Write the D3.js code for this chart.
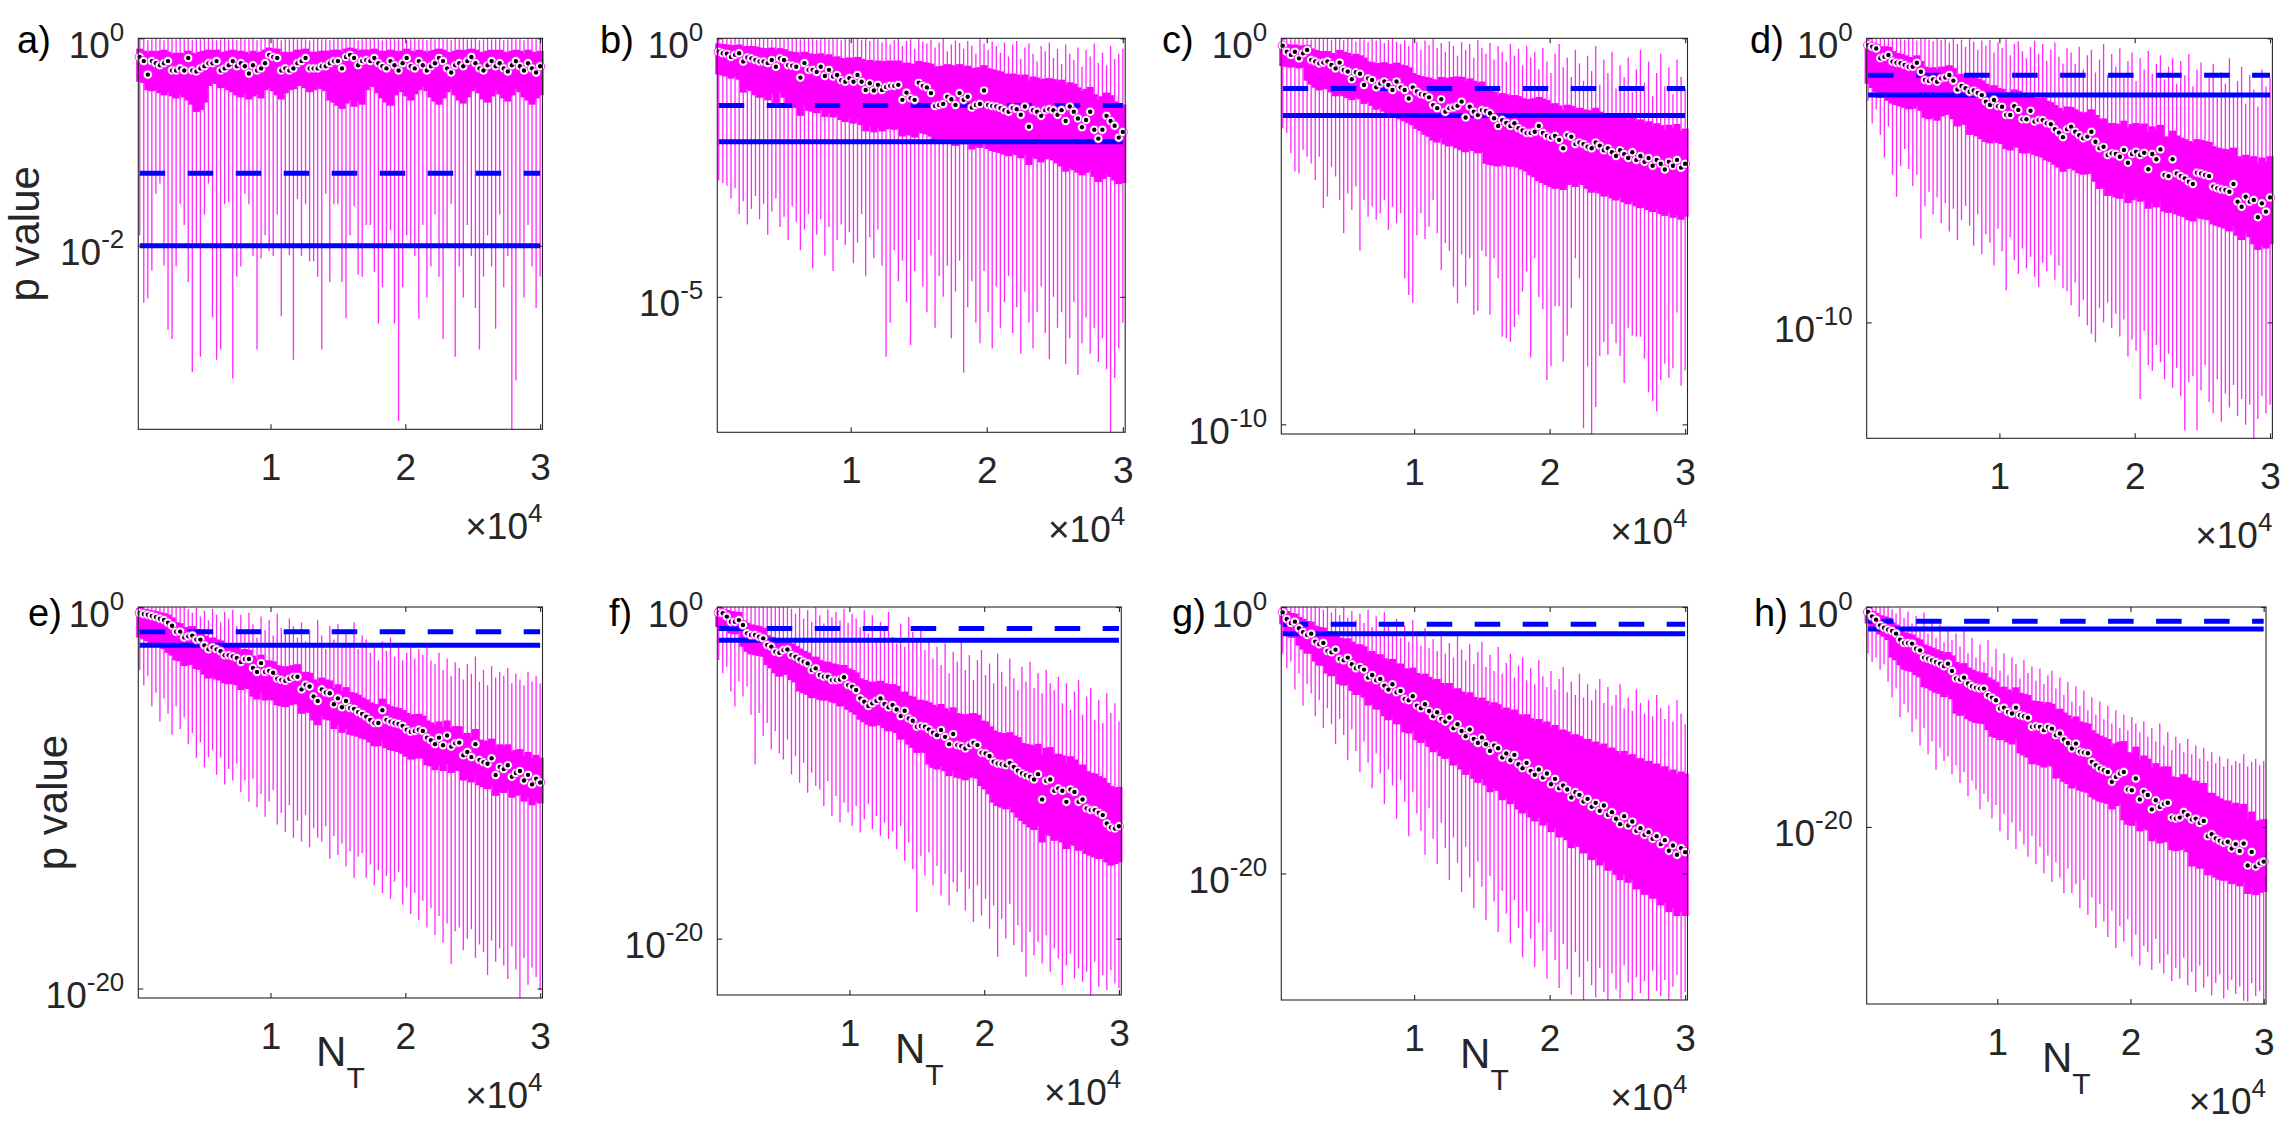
<!DOCTYPE html>
<html>
<head>
<meta charset="utf-8">
<script src="https://cdn.jsdelivr.net/npm/d3@7"></script>
<style>
  body { margin: 0; background: #fff; }
</style>
</head>
<body>
<div id="fig"></div>
<script>
// box positions (N_T)
const NT = [300,600,900,1200,1500,1800,2100,2400,2700,3000,
  3300,3600,3900,4200,4500,4800,5100,5400,5700,6000,
  6300,6600,6900,7200,7500,7800,8100,8400,8700,9000,
  9300,9600,9900,10200,10500,10800,11100,11400,11700,12000,
  12300,12600,12900,13200,13500,13800,14100,14400,14700,15000,
  15300,15600,15900,16200,16500,16800,17100,17400,17700,18000,
  18300,18600,18900,19200,19500,19800,20100,20400,20700,21000,
  21300,21600,21900,22200,22500,22800,23100,23400,23700,24000,
  24300,24600,24900,25200,25500,25800,26100,26400,26700,27000,
  27300,27600,27900,28200,28500,28800,29100,29400,29700,30000];

// all p values below are stored as -log10(p)
// panel a
const medA = [0.18,0.22,0.35,0.22,0.24,0.26,0.24,0.22,0.31,0.31,
  0.29,0.31,0.19,0.31,0.32,0.29,0.27,0.24,0.24,0.22,
  0.31,0.29,0.26,0.22,0.27,0.24,0.27,0.34,0.26,0.31,
  0.29,0.24,0.16,0.18,0.19,0.31,0.29,0.31,0.29,0.24,
  0.22,0.19,0.29,0.29,0.29,0.27,0.27,0.24,0.22,0.22,
  0.29,0.18,0.16,0.19,0.26,0.22,0.21,0.22,0.19,0.24,
  0.27,0.29,0.22,0.26,0.31,0.24,0.19,0.27,0.29,0.22,
  0.26,0.31,0.27,0.24,0.19,0.22,0.29,0.33,0.26,0.24,
  0.27,0.22,0.18,0.24,0.29,0.31,0.26,0.22,0.27,0.24,
  0.29,0.32,0.26,0.22,0.27,0.31,0.24,0.29,0.33,0.27];
const q3A = [0.10,0.12,0.14,0.12,0.13,0.12,0.11,0.13,0.15,0.14,
  0.14,0.15,0.12,0.14,0.15,0.13,0.12,0.11,0.12,0.11,
  0.14,0.13,0.12,0.11,0.13,0.12,0.13,0.15,0.12,0.14,
  0.13,0.11,0.09,0.10,0.10,0.14,0.13,0.14,0.13,0.11,
  0.11,0.10,0.13,0.13,0.13,0.12,0.12,0.12,0.11,0.11,
  0.13,0.10,0.09,0.10,0.12,0.11,0.11,0.11,0.10,0.12,
  0.12,0.13,0.11,0.12,0.14,0.12,0.10,0.12,0.13,0.11,
  0.12,0.14,0.12,0.11,0.10,0.11,0.13,0.14,0.12,0.11,
  0.12,0.11,0.10,0.11,0.13,0.14,0.12,0.11,0.12,0.11,
  0.13,0.14,0.12,0.11,0.12,0.14,0.11,0.13,0.14,0.12];
const q1A = [0.42,0.43,0.50,0.51,0.50,0.53,0.55,0.52,0.56,0.58,
  0.54,0.57,0.60,0.64,0.71,0.69,0.62,0.46,0.42,0.44,
  0.48,0.47,0.50,0.52,0.55,0.57,0.53,0.59,0.56,0.54,
  0.58,0.50,0.48,0.51,0.55,0.59,0.53,0.50,0.49,0.46,
  0.45,0.48,0.52,0.50,0.47,0.49,0.51,0.60,0.62,0.65,
  0.68,0.63,0.60,0.66,0.61,0.64,0.50,0.46,0.47,0.53,
  0.58,0.62,0.65,0.55,0.49,0.52,0.56,0.60,0.54,0.50,
  0.47,0.51,0.57,0.61,0.64,0.58,0.52,0.49,0.55,0.60,
  0.63,0.57,0.51,0.48,0.53,0.59,0.62,0.56,0.50,0.54,
  0.58,0.61,0.55,0.49,0.52,0.57,0.60,0.64,0.58,0.55];
const hiA = [0.01,0.00,0.02,0.01,0.00,0.01,0.02,0.00,0.01,0.01,
  0.00,0.01,0.00,0.02,0.01,0.01,0.00,0.00,0.01,0.02,
  0.01,0.00,0.01,0.01,0.02,0.00,0.01,0.01,0.00,0.02,
  0.01,0.00,0.00,0.01,0.00,0.02,0.01,0.01,0.00,0.01,
  0.00,0.01,0.02,0.01,0.00,0.01,0.01,0.02,0.01,0.00,
  0.01,0.00,0.00,0.01,0.02,0.01,0.00,0.01,0.00,0.01,
  0.02,0.01,0.00,0.01,0.01,0.00,0.02,0.01,0.00,0.01,
  0.01,0.02,0.00,0.01,0.00,0.01,0.01,0.02,0.00,0.01,
  0.00,0.01,0.01,0.00,0.02,0.01,0.00,0.01,0.01,0.00,
  0.02,0.01,0.00,0.01,0.01,0.02,0.00,0.01,0.01,0.00];
const loA = [1.9,2.55,2.51,2.24,1.5,1.4,2.19,2.81,2.9,2.2,
  1.6,1.8,2.35,3.22,2.0,3.07,1.7,1.4,2.69,3.1,
  3.0,1.6,1.58,3.28,2.3,2.2,1.5,1.6,2.1,3.0,
  2.12,1.9,2.05,2.1,1.7,2.68,2.0,2.09,3.1,1.55,
  2.1,1.6,2.15,2.15,2.3,3.0,1.5,2.35,1.6,1.6,
  2.35,2.7,1.9,1.62,2.28,2.3,1.8,1.8,2.25,2.75,
  2.4,2.0,1.85,2.75,3.69,2.4,1.9,2.0,2.1,2.7,
  1.8,2.5,2.2,1.7,2.3,2.9,2.0,1.6,3.07,2.2,
  2.5,1.8,2.1,2.6,3.0,2.3,1.9,2.2,2.8,1.7,
  2.4,2.1,3.77,3.3,2.0,2.5,1.8,2.2,2.6,2.3];

// panel b
const medB = [0.26,0.29,0.30,0.36,0.32,0.29,0.45,0.37,0.39,0.42,
  0.45,0.45,0.48,0.42,0.55,0.39,0.42,0.52,0.53,0.55,
  0.76,0.48,0.61,0.61,0.65,0.55,0.73,0.61,0.74,0.71,
  0.81,0.84,0.77,0.84,0.71,0.84,1.00,0.87,1.01,0.90,
  1.00,0.94,0.92,0.92,0.90,1.19,1.05,1.16,1.19,0.86,
  0.92,0.95,1.06,1.31,1.29,1.27,1.13,1.18,1.29,1.06,
  1.19,1.13,1.34,1.29,1.27,1.01,1.29,1.31,1.32,1.35,
  1.39,1.42,1.35,1.37,1.48,1.32,1.71,1.39,1.42,1.50,
  1.39,1.37,1.39,1.48,1.39,1.60,1.32,1.42,1.55,1.72,
  1.58,1.42,1.77,1.94,1.77,1.50,1.60,1.69,1.92,1.81];
const q3B = [0.10,0.11,0.12,0.14,0.13,0.12,0.16,0.15,0.15,0.16,
  0.18,0.19,0.20,0.18,0.23,0.19,0.21,0.25,0.26,0.27,
  0.33,0.26,0.29,0.30,0.31,0.29,0.34,0.31,0.36,0.35,
  0.38,0.40,0.37,0.40,0.36,0.40,0.45,0.42,0.46,0.43,
  0.45,0.44,0.43,0.44,0.43,0.50,0.47,0.49,0.50,0.44,
  0.46,0.47,0.49,0.55,0.54,0.53,0.50,0.52,0.55,0.50,
  0.54,0.53,0.58,0.57,0.56,0.52,0.58,0.60,0.62,0.64,
  0.68,0.70,0.68,0.70,0.75,0.70,0.82,0.74,0.76,0.80,
  0.78,0.77,0.79,0.83,0.80,0.90,0.85,0.88,0.95,1.02,
  0.98,0.94,1.08,1.18,1.12,1.05,1.10,1.22,1.30,1.28];
const q1B = [0.70,0.72,0.74,0.78,0.75,0.80,1.05,0.98,1.02,1.10,
  1.15,1.12,1.20,1.08,1.28,1.05,1.15,1.30,1.32,1.35,
  1.50,1.30,1.40,1.42,1.45,1.38,1.52,1.44,1.53,1.50,
  1.58,1.62,1.56,1.65,1.55,1.68,1.80,1.70,1.82,1.74,
  1.80,1.76,1.75,1.77,1.74,1.90,1.85,1.88,1.92,1.80,
  1.84,1.86,1.90,2.02,2.00,1.98,1.95,2.00,2.08,1.96,
  2.05,2.02,2.15,2.10,2.12,2.00,2.14,2.18,2.20,2.22,
  2.25,2.28,2.22,2.26,2.32,2.25,2.45,2.30,2.33,2.40,
  2.34,2.32,2.36,2.42,2.48,2.58,2.50,2.55,2.60,2.65,
  2.60,2.56,2.68,2.78,2.72,2.62,2.68,2.75,2.82,2.80];
const hiB = [0.00,0.01,0.00,0.02,0.00,0.01,0.00,0.00,0.02,0.01,
  0.00,0.01,0.00,0.03,0.00,0.01,0.02,0.00,0.01,0.00,
  0.02,0.00,0.01,0.00,0.03,0.01,0.00,0.02,0.00,0.01,
  0.04,0.00,0.02,0.01,0.00,0.03,0.01,0.05,0.00,0.02,
  0.08,0.01,0.12,0.03,0.00,0.15,0.05,0.02,0.20,0.00,
  0.06,0.10,0.03,0.18,0.08,0.01,0.25,0.12,0.04,0.09,
  0.20,0.05,0.14,0.30,0.02,0.10,0.22,0.06,0.15,0.28,
  0.08,0.35,0.12,0.05,0.40,0.18,0.10,0.30,0.45,0.15,
  0.25,0.08,0.38,0.20,0.50,0.12,0.30,0.42,0.18,0.55,
  0.22,0.35,0.10,0.48,0.28,0.52,0.15,0.40,0.30,0.20];
const loB = [2.75,2.80,2.85,3.10,2.90,3.40,3.15,3.60,3.30,3.05,
  3.50,3.20,3.80,3.35,3.10,3.65,3.45,3.90,3.25,3.55,
  4.10,3.70,3.40,4.45,3.80,3.50,4.20,3.65,4.50,3.90,
  3.60,4.00,3.75,4.35,3.95,3.40,4.60,3.85,4.25,3.70,
  4.40,6.16,5.50,4.10,4.70,4.30,5.10,5.93,4.50,3.90,
  4.80,5.30,4.20,5.60,4.60,5.00,4.40,5.80,4.90,4.30,
  6.47,5.20,4.70,5.50,5.90,4.50,5.30,6.00,4.80,5.60,
  5.10,4.60,5.70,5.20,6.10,4.90,5.50,6.00,5.30,4.80,
  5.70,6.20,5.00,5.60,5.30,6.30,5.80,5.10,6.51,5.90,
  5.40,6.10,5.60,6.26,5.80,6.40,7.62,6.57,6.00,5.50];

// panel c
const medC = [0.19,0.35,0.43,0.35,0.52,0.39,0.30,0.56,0.60,0.65,
  0.63,0.60,0.69,0.78,0.63,0.82,0.86,1.06,0.88,0.92,
  1.21,1.04,1.08,1.27,1.17,1.12,1.21,1.34,1.12,1.27,
  1.34,1.56,1.27,1.38,1.45,1.47,1.53,1.73,1.81,1.58,
  1.90,1.81,1.79,1.75,1.64,2.05,1.77,1.90,1.99,1.86,
  1.88,1.94,2.07,2.27,2.12,2.19,2.27,2.20,2.33,2.39,
  2.45,2.45,2.42,2.27,2.45,2.53,2.57,2.53,2.63,2.85,
  2.51,2.55,2.74,2.70,2.74,2.81,2.85,2.70,2.78,2.90,
  2.85,2.95,3.05,2.90,3.00,3.10,2.95,3.15,3.05,3.20,
  3.10,3.30,3.15,3.25,3.40,3.20,3.30,3.15,3.35,3.25];
const q3C = [0.13,0.15,0.18,0.16,0.20,0.18,0.17,0.26,0.30,0.33,
  0.34,0.33,0.38,0.43,0.30,0.35,0.38,0.45,0.40,0.44,
  0.50,0.60,0.62,0.66,0.64,0.62,0.66,0.70,0.63,0.68,
  0.70,0.75,0.90,0.95,0.98,1.00,1.02,1.06,1.08,1.00,
  1.05,1.02,1.00,0.99,1.00,1.12,1.04,1.10,1.15,1.12,
  1.26,1.30,1.38,1.48,1.42,1.45,1.50,1.47,1.50,1.55,
  1.58,1.57,1.55,1.52,1.56,1.60,1.70,1.68,1.74,1.86,
  1.72,1.75,1.82,1.80,1.84,1.86,1.88,1.80,1.90,1.96,
  1.94,2.00,2.06,1.98,2.04,2.12,2.05,2.16,2.10,2.20,
  2.15,2.28,2.20,2.25,2.38,2.24,2.32,2.22,2.40,2.34];
const q1C = [0.72,0.74,0.76,0.73,0.78,0.75,1.10,1.20,1.28,1.35,
  1.30,1.32,1.40,1.50,1.45,1.50,1.55,1.60,1.52,1.58,
  1.70,1.65,1.75,1.85,1.80,1.90,1.95,2.05,1.92,2.10,
  2.15,2.20,2.25,2.35,2.40,2.50,2.55,2.65,2.70,2.60,
  2.75,2.80,2.78,2.85,2.90,2.95,2.88,2.92,2.98,2.95,
  3.25,3.28,3.30,3.32,3.26,3.30,3.33,3.28,3.35,3.40,
  3.45,3.55,3.60,3.70,3.75,3.80,3.85,3.90,3.88,3.93,
  3.80,3.75,3.85,3.70,3.80,3.90,4.00,3.95,4.02,4.10,
  4.05,4.15,4.20,4.12,4.25,4.30,4.22,4.35,4.40,4.32,
  4.45,4.50,4.42,4.55,4.60,4.50,4.65,4.58,4.70,4.62];
const hiC = [0.00,0.01,0.00,0.02,0.00,0.01,0.00,0.03,0.01,0.00,
  0.02,0.00,0.04,0.01,0.00,0.05,0.02,0.00,0.08,0.01,
  0.03,0.10,0.00,0.06,0.02,0.12,0.04,0.00,0.09,0.15,
  0.05,0.20,0.02,0.10,0.30,0.06,0.18,0.01,0.25,0.12,
  0.35,0.08,0.20,0.45,0.10,0.30,0.15,0.50,0.05,0.25,
  0.40,0.12,0.55,0.20,0.35,0.60,0.15,0.45,0.28,0.70,
  0.20,0.50,0.35,0.80,0.25,0.60,0.90,0.40,0.15,0.75,
  0.50,1.00,0.30,0.65,1.10,0.45,0.85,0.20,1.20,0.55,
  0.90,0.35,1.30,0.70,1.00,0.50,1.40,0.80,0.30,1.15,
  0.60,1.50,0.90,0.40,1.25,0.75,1.45,0.55,1.00,1.30];
const loC = [2.33,2.45,2.98,3.45,3.50,2.89,3.07,3.24,3.67,3.07,
  4.40,4.10,3.33,3.58,4.19,5.05,4.02,4.45,3.84,5.50,
  4.19,4.62,4.36,4.70,4.53,4.19,4.96,4.36,4.79,4.53,
  6.22,6.65,6.85,5.10,4.53,5.20,4.88,4.19,5.05,6.00,
  5.30,5.50,6.43,6.86,5.60,6.43,5.70,7.16,7.06,5.50,
  5.65,7.16,5.70,6.22,7.73,7.77,7.87,7.48,7.16,6.56,
  6.04,8.27,5.70,6.71,7.02,8.85,8.49,6.94,6.94,8.38,
  7.70,6.98,5.70,6.22,10.10,8.50,10.25,9.55,8.23,7.87,
  8.20,7.40,7.90,8.23,8.93,7.50,7.70,7.73,7.73,8.30,
  9.17,9.40,9.67,8.85,8.43,8.80,8.55,7.10,9.00,8.60];

// panel d
const medD = [0.24,0.30,0.36,0.70,0.65,0.59,0.82,0.86,0.88,0.94,
  1.00,1.00,0.86,1.18,1.47,1.50,1.45,1.53,1.41,1.38,
  1.29,1.49,1.80,1.68,1.76,1.88,1.84,1.92,2.00,2.23,
  2.35,2.17,2.39,2.41,2.70,2.70,2.39,2.52,2.85,2.85,
  2.55,2.93,2.88,2.88,2.99,3.02,3.20,3.32,3.48,3.20,
  3.11,3.29,3.41,3.52,3.46,3.29,3.64,3.87,3.82,4.11,
  4.05,4.07,4.17,3.93,4.38,4.07,3.99,4.11,4.03,4.61,
  4.07,4.26,3.91,4.81,4.85,4.26,4.76,4.85,4.93,5.05,
  5.13,4.73,4.76,4.81,4.85,5.22,5.28,5.32,5.34,5.40,
  5.13,5.75,5.93,5.58,5.75,5.69,6.30,5.81,6.10,5.60];
const q3D = [0.18,0.20,0.22,0.30,0.28,0.30,0.45,0.52,0.55,0.60,
  0.66,0.68,0.60,0.80,1.00,1.05,1.02,1.08,1.00,1.00,
  0.95,1.05,1.30,1.25,1.35,1.40,1.38,1.42,1.48,1.60,
  1.70,1.65,1.75,1.78,1.90,1.92,1.80,1.85,2.05,2.08,
  1.95,2.10,2.12,2.10,2.20,2.25,2.35,2.45,2.55,2.40,
  2.42,2.50,2.58,2.64,2.60,2.50,2.70,2.85,2.82,3.00,
  2.98,3.00,3.05,2.90,3.15,3.02,2.98,3.05,3.00,3.30,
  3.10,3.20,3.05,3.45,3.48,3.25,3.42,3.50,3.55,3.62,
  3.68,3.55,3.58,3.62,3.65,3.80,3.85,3.88,3.90,3.95,
  3.85,4.15,4.25,4.10,4.18,4.15,4.40,4.20,4.35,4.15];
const q1D = [1.60,1.75,1.90,2.10,2.05,2.20,2.30,2.35,2.40,2.45,
  2.50,2.48,2.40,2.55,2.80,2.85,2.78,2.90,2.75,2.70,
  2.65,2.85,3.10,3.00,3.05,3.40,3.38,3.45,3.55,3.65,
  3.70,3.60,3.68,3.72,3.90,3.95,3.80,3.85,4.05,4.05,
  3.95,4.10,4.15,4.20,4.30,4.35,4.45,4.55,4.70,4.60,
  4.55,4.65,4.75,4.80,4.78,4.70,5.05,5.30,5.25,5.55,
  5.50,5.60,5.65,5.45,5.80,5.70,5.65,5.75,5.72,6.00,
  5.80,5.95,5.75,6.10,6.15,5.95,6.20,6.25,6.30,6.40,
  6.45,6.30,6.35,6.38,6.40,6.55,6.60,6.65,6.70,6.80,
  6.60,6.95,7.10,6.85,7.00,7.25,7.45,7.30,7.40,7.25];
const hiD = [0.00,0.01,0.00,0.02,0.01,0.00,0.03,0.00,0.01,0.05,
  0.00,0.02,0.08,0.01,0.00,0.04,0.10,0.00,0.06,0.02,
  0.15,0.00,0.20,0.05,0.30,0.02,0.12,0.40,0.08,0.25,
  0.05,0.50,0.15,0.35,0.03,0.60,0.20,0.10,0.45,0.70,
  0.30,0.08,0.55,0.20,0.80,0.40,0.15,0.65,0.90,0.35,
  0.50,0.90,0.30,1.10,0.60,0.40,1.20,0.75,0.20,1.30,
  0.55,1.00,0.35,1.40,0.80,0.50,1.50,0.70,1.10,0.45,
  1.25,0.90,0.60,1.45,1.00,0.70,1.60,0.80,1.30,0.55,
  1.70,1.10,0.85,1.90,1.40,0.90,2.10,1.20,1.60,0.70,
  2.00,1.50,1.00,2.30,1.30,1.80,2.40,1.10,1.70,1.40];
const loD = [2.20,3.00,2.50,3.40,4.20,3.10,4.80,5.58,4.50,3.90,
  4.60,5.20,4.80,7.05,5.90,5.40,6.20,5.60,6.50,5.80,
  6.80,6.00,7.10,6.40,5.90,6.60,7.30,6.20,7.60,6.90,
  7.20,8.00,6.70,7.50,8.87,7.00,7.80,8.30,7.40,8.10,
  7.70,8.40,8.75,7.90,8.20,7.60,8.50,8.00,8.80,8.90,
  9.40,8.60,9.80,9.20,10.10,10.40,10.70,9.50,10.00,9.30,
  10.20,9.70,10.50,9.90,11.20,10.60,11.00,12.70,10.30,11.50,
  11.70,10.80,11.40,12.00,11.10,12.30,11.60,12.60,13.80,12.10,
  11.90,13.80,12.40,11.50,12.80,13.20,12.00,13.50,12.50,13.00,
  12.20,13.30,12.70,13.60,12.90,14.08,13.40,12.60,13.20,12.90];

// panel e
const medE = [0.31,0.37,0.41,0.47,0.53,0.61,0.68,0.82,0.98,1.30,
  1.29,1.60,1.54,1.50,1.71,1.71,2.01,2.22,2.12,2.22,
  2.32,2.53,2.53,2.59,2.67,2.88,2.73,2.73,3.20,3.41,
  2.94,3.41,3.35,3.45,3.76,3.82,3.87,3.76,3.66,3.66,
  4.32,4.07,4.17,4.69,4.93,4.32,4.48,4.52,5.10,4.79,
  5.26,4.93,5.30,5.34,5.51,5.61,5.75,5.92,6.08,6.08,
  5.41,5.92,6.02,6.08,6.13,6.23,6.43,6.54,6.50,6.43,
  6.50,6.85,6.99,7.19,6.85,7.25,6.74,7.32,7.15,7.11,
  7.77,7.60,7.87,7.19,8.02,8.14,8.22,7.93,8.81,8.39,
  8.50,8.30,8.90,8.70,8.60,9.10,8.80,9.30,9.00,9.20];
const q3E = [0.06,0.10,0.14,0.18,0.22,0.28,0.32,0.40,0.55,0.80,
  0.85,1.05,1.05,1.00,1.15,1.20,1.50,1.65,1.60,1.70,
  1.75,1.95,1.95,2.00,2.10,2.30,2.20,2.25,2.55,2.75,
  2.50,2.80,2.80,2.85,3.05,3.10,3.15,3.10,3.05,3.00,
  3.50,3.40,3.45,3.80,4.00,3.70,3.80,3.85,4.25,4.05,
  4.40,4.20,4.45,4.50,4.60,4.75,4.85,5.00,5.10,5.10,
  4.80,5.10,5.20,5.25,5.30,5.40,5.55,5.65,5.62,5.60,
  5.70,5.95,6.05,6.20,6.00,6.30,5.95,6.35,6.25,6.25,
  6.70,6.60,6.80,6.40,6.95,7.00,7.05,6.90,7.40,7.20,
  7.30,7.20,7.60,7.50,7.45,7.80,7.60,7.95,7.75,7.90];
const q1E = [1.60,1.70,1.80,1.90,2.00,2.10,2.20,2.40,2.55,2.80,
  2.85,3.10,3.05,3.00,3.25,3.30,3.55,3.75,3.65,3.80,
  3.85,4.00,4.05,4.00,4.10,4.35,4.25,4.30,4.70,4.85,
  4.50,4.90,4.85,4.90,5.15,5.20,5.25,5.15,5.10,5.10,
  5.60,5.40,5.55,5.95,6.20,5.70,5.90,5.95,6.40,6.20,
  6.60,6.40,6.70,6.75,6.80,6.90,6.95,7.10,7.30,7.30,
  7.00,7.40,7.50,7.55,7.60,7.70,7.85,8.00,7.95,7.90,
  7.95,8.30,8.35,8.55,8.30,8.60,8.25,8.70,8.60,8.60,
  9.10,9.00,9.20,8.80,9.35,9.45,9.55,9.35,9.90,9.70,
  9.75,9.60,10.00,9.90,9.85,10.20,10.00,10.40,10.15,10.30];
const hiE = [0.00,0.00,0.01,0.00,0.02,0.00,0.01,0.00,0.00,0.02,
  0.01,0.00,0.10,0.30,0.05,0.50,0.20,0.70,0.10,0.40,
  0.80,0.25,0.60,0.15,1.00,0.40,1.30,0.30,0.90,1.60,
  0.50,1.20,0.70,1.50,0.35,1.10,1.40,0.60,1.00,1.60,
  0.80,1.80,1.20,2.00,0.70,1.50,2.20,1.00,1.70,0.90,
  2.10,1.30,1.90,0.80,2.20,1.50,1.70,2.40,2.00,2.80,
  1.80,2.30,1.60,2.60,2.10,2.80,2.40,1.90,2.70,2.20,
  2.50,2.00,2.80,3.00,2.40,3.30,2.70,3.60,2.90,3.20,
  3.80,3.00,3.50,2.60,3.90,3.30,4.10,3.10,3.70,3.40,
  3.60,3.20,4.00,3.50,3.80,4.10,3.40,3.90,3.60,4.00];
const loE = [3.30,4.10,3.60,5.20,4.50,6.00,4.80,5.60,6.70,5.20,
  6.40,5.80,7.20,6.60,7.90,7.10,8.40,7.87,7.50,8.80,
  7.90,9.30,8.50,9.10,8.20,9.70,9.10,10.20,9.00,10.50,
  9.80,11.00,10.20,9.60,11.40,10.80,11.80,10.40,12.10,11.20,
  12.30,10.90,12.60,11.60,12.10,12.30,11.50,13.20,12.00,13.00,
  12.40,13.60,12.80,14.20,13.10,12.90,14.20,13.50,14.60,13.80,
  15.00,14.10,15.30,14.40,13.90,15.60,14.70,16.10,15.00,16.40,
  15.40,16.80,15.80,17.20,16.20,17.60,16.60,18.70,17.00,16.80,
  18.00,17.40,16.90,18.40,17.70,18.10,19.30,17.50,18.60,17.90,
  18.80,19.50,17.80,19.00,20.50,18.40,19.80,18.90,19.40,20.10];

// panel f
const medF = [0.34,0.38,0.58,0.89,0.89,0.79,1.09,1.59,1.69,1.69,
  1.79,1.89,2.29,2.39,2.70,2.76,2.60,2.56,2.90,3.00,
  3.16,3.30,3.40,3.80,3.70,4.10,4.20,4.20,4.41,4.41,
  4.37,4.24,4.71,4.81,5.01,5.51,5.71,5.97,5.81,5.65,
  5.51,5.85,6.05,5.91,6.18,6.58,6.26,6.72,6.86,7.22,
  7.18,7.22,7.38,7.58,7.73,7.42,7.83,8.27,7.66,8.33,
  8.39,8.53,8.33,8.19,8.33,8.79,8.83,8.99,9.33,9.44,
  9.48,9.54,9.40,9.64,9.88,10.04,10.14,10.24,10.40,10.08,
  11.61,10.48,10.40,11.08,10.94,11.08,11.75,11.00,11.15,11.75,
  11.61,12.15,12.25,12.25,12.41,12.55,13.06,13.30,13.36,13.22];
const q3F = [0.10,0.12,0.18,0.25,0.28,0.30,0.80,0.95,1.05,1.10,
  1.15,1.25,1.70,1.80,2.00,2.10,2.00,2.00,2.20,2.35,
  2.50,2.65,2.75,3.00,3.00,3.20,3.30,3.30,3.40,3.45,
  3.55,3.50,3.70,3.80,3.95,4.30,4.40,4.50,4.55,4.50,
  4.45,4.60,4.70,4.65,4.75,5.20,5.10,5.35,5.40,5.60,
  5.60,5.65,5.75,5.90,6.00,5.85,6.10,6.30,6.05,6.40,
  6.45,6.55,6.45,6.40,6.50,6.85,6.90,7.20,7.45,7.55,
  7.60,7.65,7.55,7.75,7.85,8.20,8.25,8.30,8.40,8.25,
  8.90,8.50,8.45,8.90,8.85,8.95,9.40,9.00,9.20,9.55,
  9.50,9.90,10.00,10.05,10.20,10.30,10.60,10.80,10.90,10.85];
const q1F = [1.20,1.25,1.40,1.60,1.65,1.55,2.40,2.70,2.85,2.90,
  2.95,3.00,3.50,3.70,4.00,4.20,4.10,4.05,4.40,4.55,
  5.10,5.20,5.30,5.50,5.45,5.60,5.65,5.60,5.75,5.80,
  6.00,5.90,6.20,6.35,6.50,6.80,6.95,7.10,7.20,7.15,
  7.10,7.30,7.50,7.40,7.60,8.00,7.85,8.30,8.50,8.80,
  8.75,8.80,9.50,9.70,9.80,9.60,9.90,10.20,9.90,10.30,
  10.35,10.45,10.30,10.20,10.35,10.80,11.00,11.30,11.80,12.00,
  12.10,12.20,12.05,12.40,12.70,12.90,13.10,13.30,13.45,13.20,
  14.20,13.70,13.80,14.10,14.00,14.20,14.60,14.30,14.40,14.70,
  14.60,14.90,15.00,15.10,15.20,15.10,15.40,15.60,15.50,15.40];
const hiF = [0.00,0.00,0.01,0.00,0.00,0.02,0.00,0.01,0.00,0.00,
  0.02,0.00,0.01,0.00,0.03,0.00,0.01,0.00,0.10,0.40,
  0.05,0.70,0.20,0.90,0.00,0.50,1.00,0.15,0.60,0.30,
  0.80,0.10,0.95,0.40,0.70,1.20,0.20,1.60,0.50,2.00,
  0.90,1.40,0.30,1.80,2.20,1.00,2.40,0.60,1.50,2.10,
  1.20,2.60,2.00,3.10,2.40,3.50,2.20,4.00,2.70,3.30,
  2.00,3.80,2.90,4.40,3.20,2.60,4.10,3.40,4.60,2.80,
  3.90,4.80,3.10,4.30,5.00,3.60,4.50,3.30,4.90,4.00,
  5.20,3.80,4.60,5.00,4.20,5.80,4.60,6.20,5.10,4.40,
  6.50,5.40,4.90,6.80,5.60,7.00,5.20,6.40,5.80,6.90];
const loF = [3.20,4.00,3.60,5.10,6.00,4.50,5.40,4.80,6.50,9.50,
  6.40,7.80,7.00,8.60,7.50,8.83,9.20,8.00,10.10,9.00,
  10.60,9.40,11.20,10.00,10.80,11.00,12.00,10.50,12.60,11.40,
  13.00,11.80,12.40,13.20,12.00,13.60,12.80,11.90,13.40,12.60,
  13.80,13.00,14.00,13.50,14.60,13.20,15.30,14.20,15.80,18.40,
  15.00,16.20,14.80,16.80,15.60,17.40,16.10,18.00,16.60,17.20,
  16.00,18.30,17.00,19.00,16.80,18.60,17.60,19.40,18.00,21.10,
  18.80,20.00,17.90,20.40,19.20,20.80,22.30,19.60,21.00,20.20,
  21.50,19.80,22.00,20.60,21.20,22.80,21.60,20.90,22.40,21.80,
  22.60,22.00,23.40,21.40,22.90,22.20,23.10,21.90,22.70,23.00];

// panel g
const medG = [0.40,0.90,1.20,1.10,1.60,1.90,2.10,2.00,2.60,2.80,
  2.70,3.30,3.40,3.20,3.90,4.00,3.80,4.30,4.60,4.50,
  4.70,5.30,5.10,5.50,5.40,5.90,6.20,5.80,6.40,6.30,
  6.90,7.00,6.70,7.40,7.60,7.30,7.80,8.20,7.90,8.40,
  8.60,8.30,9.10,8.80,9.30,9.70,9.20,9.90,10.20,9.80,
  10.30,10.80,10.40,10.60,11.30,11.00,11.50,11.10,11.80,12.10,
  11.70,12.30,12.60,12.20,12.80,12.50,13.30,12.90,13.60,13.40,
  13.70,14.30,13.90,14.10,14.60,14.40,15.00,14.70,15.30,14.90,
  15.60,15.40,15.90,16.30,15.70,16.40,16.10,16.80,16.60,17.10,
  16.90,17.40,17.20,17.80,17.50,18.30,17.90,18.60,18.10,18.40];
const q3G = [0.12,0.30,0.45,0.50,0.75,0.90,1.05,1.10,1.40,1.50,
  1.55,1.85,1.95,1.90,2.30,2.40,2.35,2.60,2.80,2.80,
  2.95,3.40,3.30,3.55,3.55,3.85,4.05,3.90,4.25,4.25,
  4.60,4.70,4.55,4.95,5.10,5.00,5.25,5.50,5.40,5.70,
  5.85,5.70,6.20,6.10,6.35,6.60,6.40,6.75,6.95,6.80,
  7.05,7.35,7.15,7.30,7.70,7.55,7.85,7.70,8.05,8.25,
  8.05,8.35,8.55,8.40,8.70,8.60,9.05,8.85,9.25,9.20,
  9.35,9.70,9.55,9.70,9.95,9.90,10.20,10.10,10.40,10.25,
  10.60,10.55,10.80,11.05,10.80,11.15,11.05,11.40,11.35,11.60,
  11.55,11.80,11.75,12.05,11.95,12.35,12.20,12.55,12.35,12.50];
const q1G = [1.30,1.90,2.30,2.30,2.90,3.20,3.50,3.50,4.10,4.40,
  4.40,5.00,5.20,5.00,5.80,5.90,5.80,6.30,6.60,6.60,
  6.80,7.40,7.30,7.70,7.70,8.20,8.50,8.20,8.80,8.80,
  9.40,9.50,9.30,10.00,10.20,10.00,10.50,10.90,10.70,11.20,
  11.40,11.20,11.90,11.70,12.20,12.60,12.20,12.90,13.20,12.90,
  13.40,13.90,13.60,13.80,14.50,14.30,14.80,14.50,15.20,15.50,
  15.20,15.80,16.10,15.80,16.40,16.20,16.90,16.60,17.30,17.20,
  17.50,18.10,17.80,18.00,18.50,18.40,19.00,18.80,19.40,19.10,
  19.80,19.70,20.10,20.50,20.10,20.70,20.50,21.20,21.10,21.60,
  21.50,21.90,21.80,22.40,22.20,22.90,22.60,23.20,22.90,23.20];
const hiG = [0.00,0.00,0.01,0.00,0.02,0.00,0.00,0.01,0.00,0.05,
  0.20,0.00,0.40,0.10,0.60,0.00,0.80,0.30,1.00,0.50,
  1.20,0.20,1.50,0.70,1.80,0.40,1.20,2.00,0.90,2.30,
  1.40,2.60,1.00,2.20,2.90,1.60,3.10,2.40,3.30,1.80,
  3.50,2.70,3.80,2.10,3.20,4.00,2.80,4.30,3.40,2.60,
  4.50,3.60,4.80,3.00,5.00,4.20,3.50,5.30,4.40,3.80,
  5.50,4.60,5.80,4.00,5.20,6.00,4.80,6.20,5.40,4.50,
  6.40,5.60,6.60,5.00,6.80,5.80,7.00,6.20,5.40,7.20,
  6.00,7.40,6.60,5.80,7.60,6.80,7.80,6.20,7.20,8.00,
  7.00,8.20,6.60,7.60,8.40,7.40,8.60,7.00,8.00,8.80];
const loG = [3.5,4.6,4.1,6.2,5.0,7.4,5.8,6.5,8.2,7.0,
  9.1,7.6,8.8,10.3,8.4,9.6,11.5,9.2,10.8,12.4,
  10.1,11.7,13.6,11.0,12.5,14.8,12.2,13.4,15.9,13.0,
  14.6,17.2,13.9,15.5,16.8,18.6,15.1,17.4,19.3,16.2,
  18.1,20.5,17.3,19.2,21.4,18.0,20.3,22.6,19.1,21.0,
  23.5,20.2,22.1,24.4,21.3,23.0,25.2,22.0,24.1,26.3,
  22.8,24.9,27.0,23.7,25.8,27.9,24.4,26.5,28.6,25.3,
  27.2,29.1,25.9,27.8,29.5,26.6,28.4,29.3,27.1,28.9,
  29.5,27.5,28.7,29.4,26.9,28.2,29.5,27.8,29.0,28.1,
  29.5,27.3,28.8,29.2,28.0,29.5,28.5,27.6,29.4,28.9];

// panel h
const medH = [0.45,0.85,1.15,1.67,1.88,2.06,2.18,2.42,2.97,3.27,
  3.27,3.33,3.79,3.94,4.60,4.70,4.85,5.00,5.15,5.39,
  5.15,5.81,6.50,6.60,6.42,6.96,7.20,7.33,7.42,7.42,
  8.03,8.24,8.48,9.24,9.15,9.54,9.69,9.15,9.84,9.93,
  10.06,10.90,10.84,10.90,11.20,10.90,11.06,11.66,11.50,12.05,
  12.36,12.87,12.42,13.15,13.24,13.30,14.08,14.39,14.69,14.84,
  15.00,15.90,15.45,15.15,15.00,16.60,16.66,15.60,17.50,16.80,
  17.10,18.40,17.57,18.18,17.90,17.80,19.15,19.24,19.15,18.63,
  18.93,19.33,19.24,19.63,19.45,20.84,20.66,21.05,21.26,21.44,
  21.35,21.96,21.56,22.18,21.50,23.50,22.27,23.60,23.30,23.15];
const q3H = [0.15,0.35,0.55,0.75,0.85,0.95,1.40,1.60,2.00,2.30,
  2.40,2.50,2.80,2.95,3.40,3.55,3.70,3.85,4.00,4.20,
  4.10,4.40,5.00,5.20,5.10,5.50,5.70,5.85,5.95,6.00,
  6.40,6.60,6.80,7.30,7.25,7.50,7.65,7.30,7.80,7.90,
  8.00,8.50,8.55,8.60,8.80,8.65,8.80,9.30,9.25,9.60,
  9.85,10.20,9.95,10.40,10.50,10.60,11.20,11.50,11.70,11.85,
  12.00,12.60,12.40,12.25,12.20,13.20,13.30,12.70,13.90,13.50,
  13.80,14.60,14.20,14.60,14.50,14.50,15.40,15.50,15.50,15.20,
  15.50,15.80,15.80,16.10,16.00,16.90,16.90,17.20,17.40,17.60,
  17.60,18.00,17.80,18.30,17.90,19.30,18.60,19.50,19.40,19.30];
const q1H = [1.50,1.80,2.10,2.50,2.70,3.00,4.60,4.85,5.30,5.70,
  5.80,5.90,6.20,6.40,7.30,7.40,7.60,7.80,7.90,8.20,
  8.00,8.40,9.70,9.90,9.75,10.20,10.40,10.55,10.60,10.65,
  11.20,11.80,11.90,12.10,12.05,12.30,12.50,12.00,13.30,13.50,
  13.70,14.30,14.20,14.40,14.60,14.30,14.50,15.60,15.50,15.90,
  16.10,16.50,16.20,16.70,16.80,16.90,17.30,17.50,17.70,17.80,
  17.90,18.40,18.10,17.90,19.40,19.80,19.90,19.40,20.40,20.10,
  20.30,21.30,21.00,21.50,21.40,21.30,22.10,22.20,22.10,21.90,
  22.30,23.60,23.50,23.80,23.70,24.40,24.30,24.60,24.80,24.90,
  24.80,25.20,25.00,25.40,25.00,26.10,25.50,26.20,26.00,25.90];
const hiH = [0.00,0.00,0.01,0.00,0.02,0.00,0.20,0.60,0.10,1.00,
  0.40,1.50,0.80,1.90,0.50,2.40,1.20,2.80,1.60,3.20,
  2.00,3.00,2.40,3.60,2.00,4.20,2.80,4.60,3.40,5.00,
  3.00,5.40,3.80,5.80,4.20,6.20,4.60,5.20,6.50,4.80,
  6.00,5.40,6.70,5.60,7.00,6.20,5.80,7.40,6.40,8.00,
  6.80,8.60,7.20,9.00,7.60,9.40,8.20,9.80,8.60,10.20,
  9.00,10.60,9.40,11.00,9.80,11.20,10.00,10.60,11.40,10.40,
  11.80,11.00,12.20,10.60,12.60,11.40,13.00,11.80,12.40,13.20,
  12.00,13.40,12.60,13.80,12.80,14.00,13.20,14.20,13.60,14.50,
  13.80,14.40,14.00,14.20,13.40,14.50,14.10,13.80,14.40,14.00];
const loH = [4.20,5.00,4.60,5.70,5.20,6.80,8.20,7.40,10.00,8.80,
  9.60,11.40,10.20,12.60,11.00,13.40,12.20,14.80,12.80,14.00,
  13.60,15.20,14.40,16.00,15.00,17.20,15.80,16.60,18.40,17.00,
  17.70,19.20,18.00,20.40,18.80,21.20,19.60,22.00,20.40,21.60,
  22.70,20.80,23.40,21.80,24.20,22.60,25.00,23.20,24.60,26.00,
  23.80,26.00,25.20,27.40,24.80,28.00,26.40,29.20,27.00,28.60,
  30.00,27.60,31.00,29.00,30.40,28.40,31.80,29.80,32.60,30.80,
  31.40,33.00,30.20,32.40,33.30,31.60,34.00,32.80,33.80,31.90,
  34.40,33.20,35.00,32.60,34.60,33.60,35.30,34.20,33.40,35.60,
  34.80,33.90,35.20,34.50,35.80,35.90,34.20,35.40,34.90,36.10];

// axis limits and ticks
const xLim = [195, 30175];
const xTicks = [10000, 20000, 30000];
const yMinExp = [-3.77, -7.62, -10.25, -14.08, -20.5, -23.4, -29.5, -36.1];
const yTickExp = [[0, -2], [0, -5], [0, -10], [0, -10], [0, -20], [0, -20], [0, -20], [0, -20]];
const alphaLevels = [0.05, 0.01];
const panelNames = ["a)", "b)", "c)", "d)", "e)", "f)", "g)", "h)"];

const series = [
  {med: medA, q1: q1A, q3: q3A, hi: hiA, lo: loA},
  {med: medB, q1: q1B, q3: q3B, hi: hiB, lo: loB},
  {med: medC, q1: q1C, q3: q3C, hi: hiC, lo: loC},
  {med: medD, q1: q1D, q3: q3D, hi: hiD, lo: loD},
  {med: medE, q1: q1E, q3: q3E, hi: hiE, lo: loE},
  {med: medF, q1: q1F, q3: q3F, hi: hiF, lo: loF},
  {med: medG, q1: q1G, q3: q3G, hi: hiG, lo: loG},
  {med: medH, q1: q1H, q3: q3H, hi: hiH, lo: loH}
];

// layout (pixels); ylx = baseline x of the rotated y label
const frames = [
  {L: 138.3, R: 542.5, T: 38.3, B: 429.3, lx: 17, ly: 53, ylx: 39},
  {L: 717.3, R: 1125.2, T: 38.3, B: 432.3, lx: 600, ly: 53},
  {L: 1281.3, R: 1687.5, T: 38.3, B: 434, lx: 1162, ly: 53},
  {L: 1866.7, R: 2272.4, T: 38.3, B: 438.3, lx: 1750, ly: 53},
  {L: 138.3, R: 542.5, T: 607, B: 998, lx: 28, ly: 626, ylx: 67},
  {L: 717.3, R: 1121.3, T: 607, B: 995, lx: 609, ly: 626},
  {L: 1281.3, R: 1687.5, T: 607, B: 1000, lx: 1172, ly: 626},
  {L: 1866.7, R: 2266, T: 607, B: 1004, lx: 1754, ly: 626}
];

const MAG = "#ff00ff", BLUE = "#0000ff", AX = "#262626";
const FONT = "'Liberation Sans', Arial, Helvetica, sans-serif";
const width = 2291, height = 1134;

const svg = d3.select("#fig").append("svg")
  .attr("width", width)
  .attr("height", height)
  .style("font-family", FONT);

svg.append("rect").attr("width", width).attr("height", height).attr("fill", "#fff");

const toP = v => Math.pow(10, -v);

frames.forEach((fr, k) => {
  const s = series[k];
  const idx = d3.range(NT.length);

  const x = d3.scaleLinear().domain(xLim).range([fr.L, fr.R]);
  const y = d3.scaleLog().domain([1, Math.pow(10, yMinExp[k])]).range([fr.T, fr.B]);

  const g = svg.append("g").attr("class", "panel");

  // whiskers
  g.append("g").selectAll("line")
    .data(idx)
    .join("line")
    .attr("x1", i => x(NT[i]))
    .attr("x2", i => x(NT[i]))
    .attr("y1", i => y(toP(s.hi[i])))
    .attr("y2", i => y(toP(s.lo[i])))
    .attr("stroke", MAG)
    .attr("stroke-width", 1.3)
    .attr("stroke-opacity", 0.85);

  // boxes (compact style: thick bar from q1 to q3)
  g.append("g").selectAll("rect")
    .data(idx)
    .join("rect")
    .attr("x", i => x(NT[i]) - 3.5)
    .attr("width", 7)
    .attr("y", i => y(toP(s.q3[i])))
    .attr("height", i => y(toP(s.q1[i])) - y(toP(s.q3[i])))
    .attr("fill", MAG);

  // significance levels: dashed 0.05, solid 0.01
  g.append("g").selectAll("line")
    .data(alphaLevels)
    .join("line")
    .attr("x1", x(NT[0]))
    .attr("x2", x(NT[NT.length - 1]))
    .attr("y1", d => y(d))
    .attr("y2", d => y(d))
    .attr("stroke", BLUE)
    .attr("stroke-width", 5)
    .attr("stroke-dasharray", (d, j) => j === 0 ? "25.5,22.5" : null);

  // medians: white circle with a black dot
  const med = g.append("g").selectAll("g")
    .data(idx)
    .join("g")
    .attr("transform", i => `translate(${x(NT[i])},${y(toP(s.med[i]))})`);
  med.append("circle").attr("r", 4.6).attr("fill", "#fff").attr("stroke", MAG).attr("stroke-width", 0.8);
  med.append("circle").attr("r", 2.2).attr("fill", "#000");

  // frame
  g.append("rect")
    .attr("x", fr.L).attr("y", fr.T)
    .attr("width", fr.R - fr.L).attr("height", fr.B - fr.T)
    .attr("fill", "none").attr("stroke", AX).attr("stroke-width", 1.1);

  const styleAxis = sel => {
    sel.attr("font-family", null).attr("font-size", 37);
    sel.select(".domain").remove();
    sel.selectAll(".tick line").attr("stroke", AX).attr("stroke-width", 1.1);
    sel.selectAll(".tick text").attr("fill", AX);
  };

  g.append("g").attr("transform", `translate(0,${fr.B})`)
    .call(d3.axisBottom(x).tickValues(xTicks).tickSizeInner(-5).tickSizeOuter(0)
      .tickPadding(24.7).tickFormat(d => d / 1e4))
    .call(styleAxis);
  g.append("g").attr("transform", `translate(0,${fr.T})`)
    .call(d3.axisTop(x).tickValues(xTicks).tickSizeInner(-5).tickSizeOuter(0).tickFormat(""))
    .call(styleAxis);

  const yt = yTickExp[k].map(e => Math.pow(10, e));
  g.append("g").attr("transform", `translate(${fr.L},0)`)
    .call(d3.axisLeft(y).tickValues(yt).tickSizeInner(-5).tickSizeOuter(0).tickFormat(""))
    .call(styleAxis);
  g.append("g").attr("transform", `translate(${fr.R},0)`)
    .call(d3.axisRight(y).tickValues(yt).tickSizeInner(-5).tickSizeOuter(0).tickFormat(""))
    .call(styleAxis);

  // y tick labels 10^n
  yTickExp[k].forEach(e => {
    const t = g.append("text")
      .attr("x", fr.L - 14)
      .attr("y", y(Math.pow(10, e)) + 19.5)
      .attr("text-anchor", "end")
      .attr("fill", AX)
      .style("font-size", "37px");
    t.append("tspan").text("10");
    t.append("tspan").attr("dy", -17).style("font-size", "26px").text(String(e));
  });

  // x exponent label
  const ex = g.append("text")
    .attr("x", fr.R)
    .attr("y", fr.B + 110)
    .attr("text-anchor", "end")
    .attr("fill", AX)
    .style("font-size", "37px");
  ex.append("tspan").text("\u00d710");
  ex.append("tspan").attr("dy", -17).style("font-size", "26px").text("4");

  // panel letter
  g.append("text")
    .attr("x", fr.lx)
    .attr("y", fr.ly)
    .attr("fill", "#000")
    .style("font-size", "38px")
    .text(panelNames[k]);

  // x label on bottom row
  if (k >= 4) {
    const xl = g.append("text")
      .attr("x", (fr.L + fr.R) / 2)
      .attr("y", fr.B + 68)
      .attr("text-anchor", "middle")
      .attr("fill", AX)
      .style("font-size", "42px");
    xl.append("tspan").text("N");
    xl.append("tspan").attr("dy", 22).style("font-size", "30px").text("T");
  }

  // y label on first column
  if (fr.ylx !== undefined) {
    g.append("text")
      .attr("transform", `translate(${fr.ylx},${(fr.T + fr.B) / 2}) rotate(-90)`)
      .attr("text-anchor", "middle")
      .attr("fill", AX)
      .style("font-size", "42px")
      .text("p value");
  }
});
</script>
</body>
</html>
